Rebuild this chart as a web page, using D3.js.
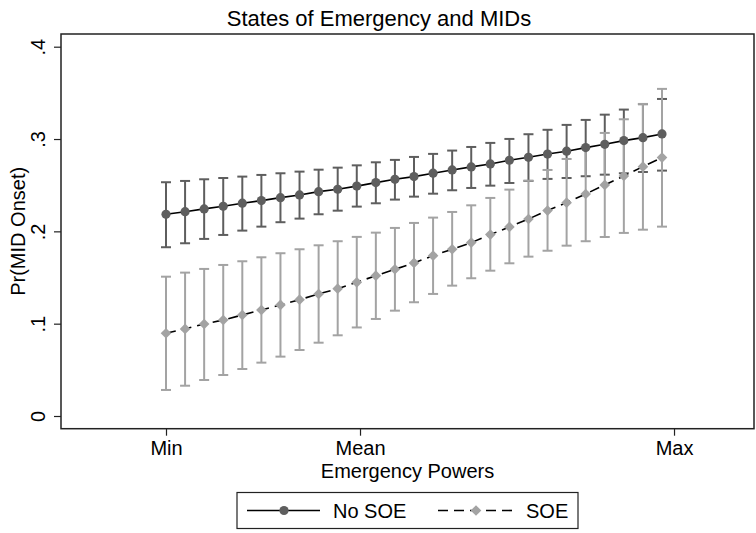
<!DOCTYPE html>
<html>
<head>
<meta charset="utf-8">
<script src="https://cdn.jsdelivr.net/npm/d3@7"></script>
<style>
  html, body { margin: 0; padding: 0; background: #fff; }
  svg { display: block; font-family: "Liberation Sans", Arial, Helvetica, sans-serif; }
</style>
</head>
<body>
<svg id="chart" width="756" height="533"></svg>
<script>
// ---------------- data ----------------
const steps = d3.range(27); // evaluation points from Min to near Max of Emergency Powers
const noSOE    = [0.2185,0.2213,0.2243,0.2272,0.2305,0.2333,0.2365,0.2394,0.2430,0.2456,0.2490,0.2528,0.2564,0.2593,0.2630,0.2665,0.2698,0.2730,0.2770,0.2802,0.2837,0.2868,0.2907,0.2943,0.2983,0.3015,0.3055];
const noSOE_hi = [0.2532,0.2546,0.2564,0.2578,0.2593,0.2611,0.2629,0.2647,0.2668,0.2690,0.2715,0.2748,0.2774,0.2806,0.2839,0.2875,0.2914,0.2958,0.3001,0.3052,0.3100,0.3153,0.3207,0.3264,0.3319,0.3377,0.3434];
const noSOE_lo = [0.1828,0.1871,0.1918,0.1961,0.2008,0.2051,0.2099,0.2138,0.2185,0.2224,0.2268,0.2304,0.2344,0.2376,0.2408,0.2445,0.2470,0.2495,0.2524,0.2546,0.2568,0.2578,0.2597,0.2614,0.2629,0.2643,0.2658];
const soe      = [0.0896,0.0943,0.0997,0.1040,0.1094,0.1148,0.1203,0.1260,0.1322,0.1379,0.1448,0.1520,0.1589,0.1658,0.1737,0.1806,0.1878,0.1965,0.2048,0.2134,0.2225,0.2311,0.2405,0.2503,0.2600,0.2701,0.2799];
const soe_hi   = [0.1509,0.1553,0.1593,0.1636,0.1676,0.1719,0.1763,0.1806,0.1849,0.1893,0.1940,0.1986,0.2037,0.2091,0.2149,0.2210,0.2282,0.2362,0.2452,0.2549,0.2665,0.2784,0.2911,0.3066,0.3214,0.3380,0.3543];
const soe_lo   = [0.0282,0.0328,0.0390,0.0444,0.0509,0.0578,0.0643,0.0715,0.0794,0.0874,0.0959,0.1051,0.1141,0.1232,0.1322,0.1412,0.1492,0.1574,0.1654,0.1726,0.1790,0.1845,0.1893,0.1939,0.1983,0.2018,0.2051];

const xTickValues = [0, 10.17, 26.63];
const xTickLabels = ["Min", "Mean", "Max"];
const yTickValues = [0, 0.1, 0.2, 0.3, 0.4];
const yTickLabels = ["0", ".1", ".2", ".3", ".4"];
const seriesNames = ["No SOE", "SOE"];

// ---------------- layout ----------------
const svg = d3.select("#chart");
const frame = { left: 61, right: 754, top: 34, bottom: 428.7 };
const x = d3.scaleLinear().domain([0, 26]).range([166, 662]);
const y = d3.scaleLinear().domain([0, 0.4]).range([416, 46.7]);

const darkCol = "#5e5e5e";
const lightCol = "#a3a3a3";
const capW = 5;
const font = 20;

// title
svg.append("text").attr("x", 379).attr("y", 26).attr("text-anchor", "middle")
  .attr("font-size", 22).attr("fill", "#000").text("States of Emergency and MIDs");

// frame
svg.append("rect").attr("x", frame.left).attr("y", frame.top)
  .attr("width", frame.right - frame.left).attr("height", frame.bottom - frame.top)
  .attr("fill", "none").attr("stroke", "#222").attr("stroke-width", 1.5);

// axes
const yAxis = svg.append("g").attr("transform", `translate(${frame.left},0)`)
  .call(d3.axisLeft(y).tickValues(yTickValues).tickFormat((d, i) => yTickLabels[i]).tickSize(7));
yAxis.select(".domain").remove();
yAxis.selectAll("line").attr("stroke", "#222").attr("stroke-width", 1.2);
yAxis.selectAll("text").attr("x", 0).attr("dy", 0).attr("text-anchor", "middle")
  .attr("transform", "translate(-16,0) rotate(-90)")
  .attr("font-size", font).attr("font-family", "Liberation Sans, Arial, sans-serif").attr("fill", "#000");

const xAxis = svg.append("g").attr("transform", `translate(0,${frame.bottom})`)
  .call(d3.axisBottom(x).tickValues(xTickValues).tickFormat((d, i) => xTickLabels[i]).tickSize(7).tickPadding(5));
xAxis.select(".domain").remove();
xAxis.selectAll("line").attr("stroke", "#222").attr("stroke-width", 1.2);
xAxis.selectAll("text").attr("font-size", font).attr("font-family", "Liberation Sans, Arial, sans-serif").attr("fill", "#000");

// axis titles
svg.append("text").attr("x", (frame.left + frame.right) / 2).attr("y", 478)
  .attr("text-anchor", "middle").attr("font-size", font).text("Emergency Powers");
svg.append("text").attr("transform", `translate(25,${(frame.top + frame.bottom) / 2}) rotate(-90)`)
  .attr("text-anchor", "middle").attr("font-size", font).text("Pr(MID Onset)");

// error bars
function drawCI(lo, hi, col) {
  const g = svg.append("g").attr("stroke", col).attr("stroke-width", 2).attr("fill", "none");
  steps.forEach((s, i) => {
    g.append("line").attr("x1", x(s)).attr("x2", x(s)).attr("y1", y(lo[i])).attr("y2", y(hi[i]));
    g.append("line").attr("x1", x(s) - capW).attr("x2", x(s) + capW).attr("y1", y(lo[i])).attr("y2", y(lo[i]));
    g.append("line").attr("x1", x(s) - capW).attr("x2", x(s) + capW).attr("y1", y(hi[i])).attr("y2", y(hi[i]));
  });
}
drawCI(noSOE_lo, noSOE_hi, darkCol);
drawCI(soe_lo, soe_hi, lightCol);

// lines
const line = d3.line().x((d, i) => x(steps[i])).y(d => y(d));
svg.append("path").datum(noSOE).attr("d", line).attr("fill", "none").attr("stroke", "#000").attr("stroke-width", 1.6);
svg.append("path").datum(soe).attr("d", line).attr("fill", "none").attr("stroke", "#000").attr("stroke-width", 1.6)
  .attr("stroke-dasharray", "10,6");

// markers
svg.append("g").selectAll("circle").data(noSOE).join("circle")
  .attr("cx", (d, i) => x(steps[i])).attr("cy", d => y(d)).attr("r", 4.6).attr("fill", darkCol);
const diamond = d3.symbol().type(d3.symbolDiamond2).size(72);
svg.append("g").selectAll("path").data(soe).join("path")
  .attr("transform", (d, i) => `translate(${x(steps[i])},${y(d)})`).attr("d", diamond).attr("fill", lightCol);

// legend
const lg = svg.append("g");
lg.append("rect").attr("x", 237).attr("y", 492.5).attr("width", 341).attr("height", 36)
  .attr("fill", "#fff").attr("stroke", "#222").attr("stroke-width", 1.2);
const ly = 510.5;
lg.append("line").attr("x1", 247).attr("x2", 320).attr("y1", ly).attr("y2", ly).attr("stroke", "#000").attr("stroke-width", 1.6);
lg.append("circle").attr("cx", 284).attr("cy", ly).attr("r", 4.6).attr("fill", darkCol);
lg.append("text").attr("x", 333).attr("y", ly + 7).attr("font-size", font).text(seriesNames[0]);
lg.append("line").attr("x1", 438).attr("x2", 514).attr("y1", ly).attr("y2", ly).attr("stroke", "#000").attr("stroke-width", 1.6)
  .attr("stroke-dasharray", "10,6");
lg.append("path").attr("transform", `translate(476,${ly})`).attr("d", diamond).attr("fill", lightCol);
lg.append("text").attr("x", 526).attr("y", ly + 7).attr("font-size", font).text(seriesNames[1]);
</script>
</body>
</html>
